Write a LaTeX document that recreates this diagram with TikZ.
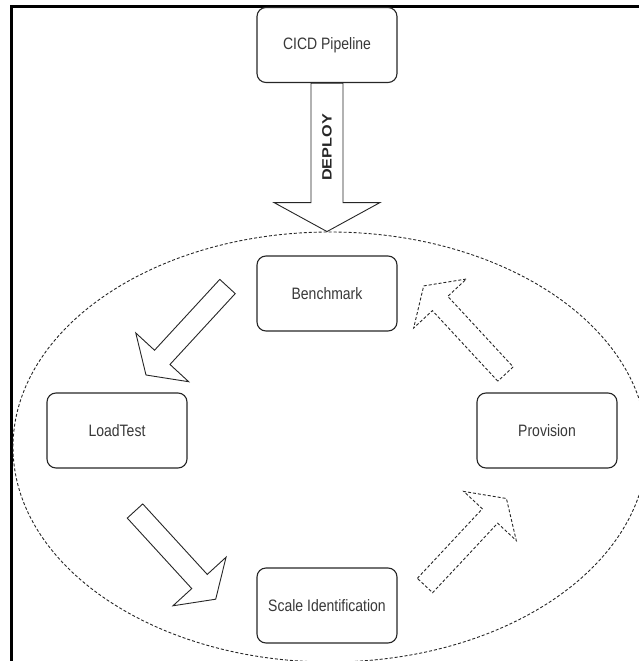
\documentclass[tikz,border=0pt]{standalone}
\usepackage{fontspec}
\setmainfont{Liberation Sans}
\usetikzlibrary{shapes.geometric,calc}

% slightly taller lettering for the labels
\newcommand\tallt[1]{\scalebox{1}[1.18]{#1}}

% block arrow: #1 style, #2 tail, #3 tip, #4 half shaft width, #5 half head width, #6 head length
\newcommand\blockarrow[6]{%
  \coordinate (hb) at ($(#3)!#6!(#2)$);
  \draw[#1] ($(#2)!#4!90:(#3)$) -- ($(hb)!#4!90:(#3)$) -- ($(hb)!#5!90:(#3)$)
    -- (#3) -- ($(hb)!#5!-90:(#3)$) -- ($(hb)!#4!-90:(#3)$)
    -- ($(#2)!#4!-90:(#3)$) -- cycle;}

\begin{document}
\begin{tikzpicture}[x=1pt,y=-1pt,
  stage/.style={draw=black!85, line width=1.1pt, rounded corners=9pt,
    minimum width=140pt, minimum height=75pt, inner sep=0pt,
    font=\fontsize{14}{16}\selectfont, text=black!78},
  ring/.style={ellipse, draw=black!85, line width=0.9pt,
    dash pattern=on 3pt off 2pt, inner sep=0pt},
  solidarrow/.style={draw=black!85, line width=0.9pt, line join=miter},
  dasharrow/.style={draw=black!85, line width=0.9pt, dash pattern=on 3pt off 2pt},
  frame/.style={draw=black, line width=2.4pt}
]
\useasboundingbox (0,0) rectangle (639,661);
\clip (0,0) rectangle (639,661);

% outer frame (left and top edges)
\draw[frame] (11.5,661) -- (11.5,6.5) -- (639,6.5);

% dashed loop around the cycle
\node[ring, minimum width=634pt, minimum height=430pt] (loop) at (330,447) {};

% stages
\node[stage] (cicd)  at (327,45)    {\tallt{CICD Pipeline}};
\node[stage] (bench) at (327,293.5) {\tallt{Benchmark}};
\node[stage] (load)  at (117,430.5) {\tallt{LoadTest}};
\node[stage] (prov)  at (547,430.5) {\tallt{Provision}};
\node[stage] (scale) at (327,605.5) {\tallt{Scale Identification}};

% deploy arrow from the pipeline onto the loop
\coordinate (deploytip) at (cicd.south |- loop.north);
\blockarrow{solidarrow}{cicd.south}{deploytip}{16pt}{53pt}{29pt}
\node[rotate=90, font=\bfseries\fontsize{13.5}{15}\selectfont, text=black!85]
  (deploy) at (327,147.5) {\scalebox{1.2}[1]{DEPLOY}};

% cycle arrows
\coordinate (a1t) at (227.5,286.5); \coordinate (a1h) at (146,375);
\coordinate (a2t) at (135,511);     \coordinate (a2h) at (215.7,599.2);
\coordinate (a3t) at (425,585.5);   \coordinate (a3h) at (506.4,498.5);
\coordinate (a4t) at (505.5,374);   \coordinate (a4h) at (423.7,285.9);
\blockarrow{solidarrow}{a1t}{a1h}{10.5pt}{36pt}{24pt}
\blockarrow{solidarrow}{a2t}{a2h}{10.5pt}{36pt}{24pt}
\blockarrow{dasharrow}{a3t}{a3h}{10.5pt}{36pt}{24pt}
\blockarrow{dasharrow}{a4t}{a4h}{10.5pt}{36pt}{24pt}
\end{tikzpicture}
\end{document}
